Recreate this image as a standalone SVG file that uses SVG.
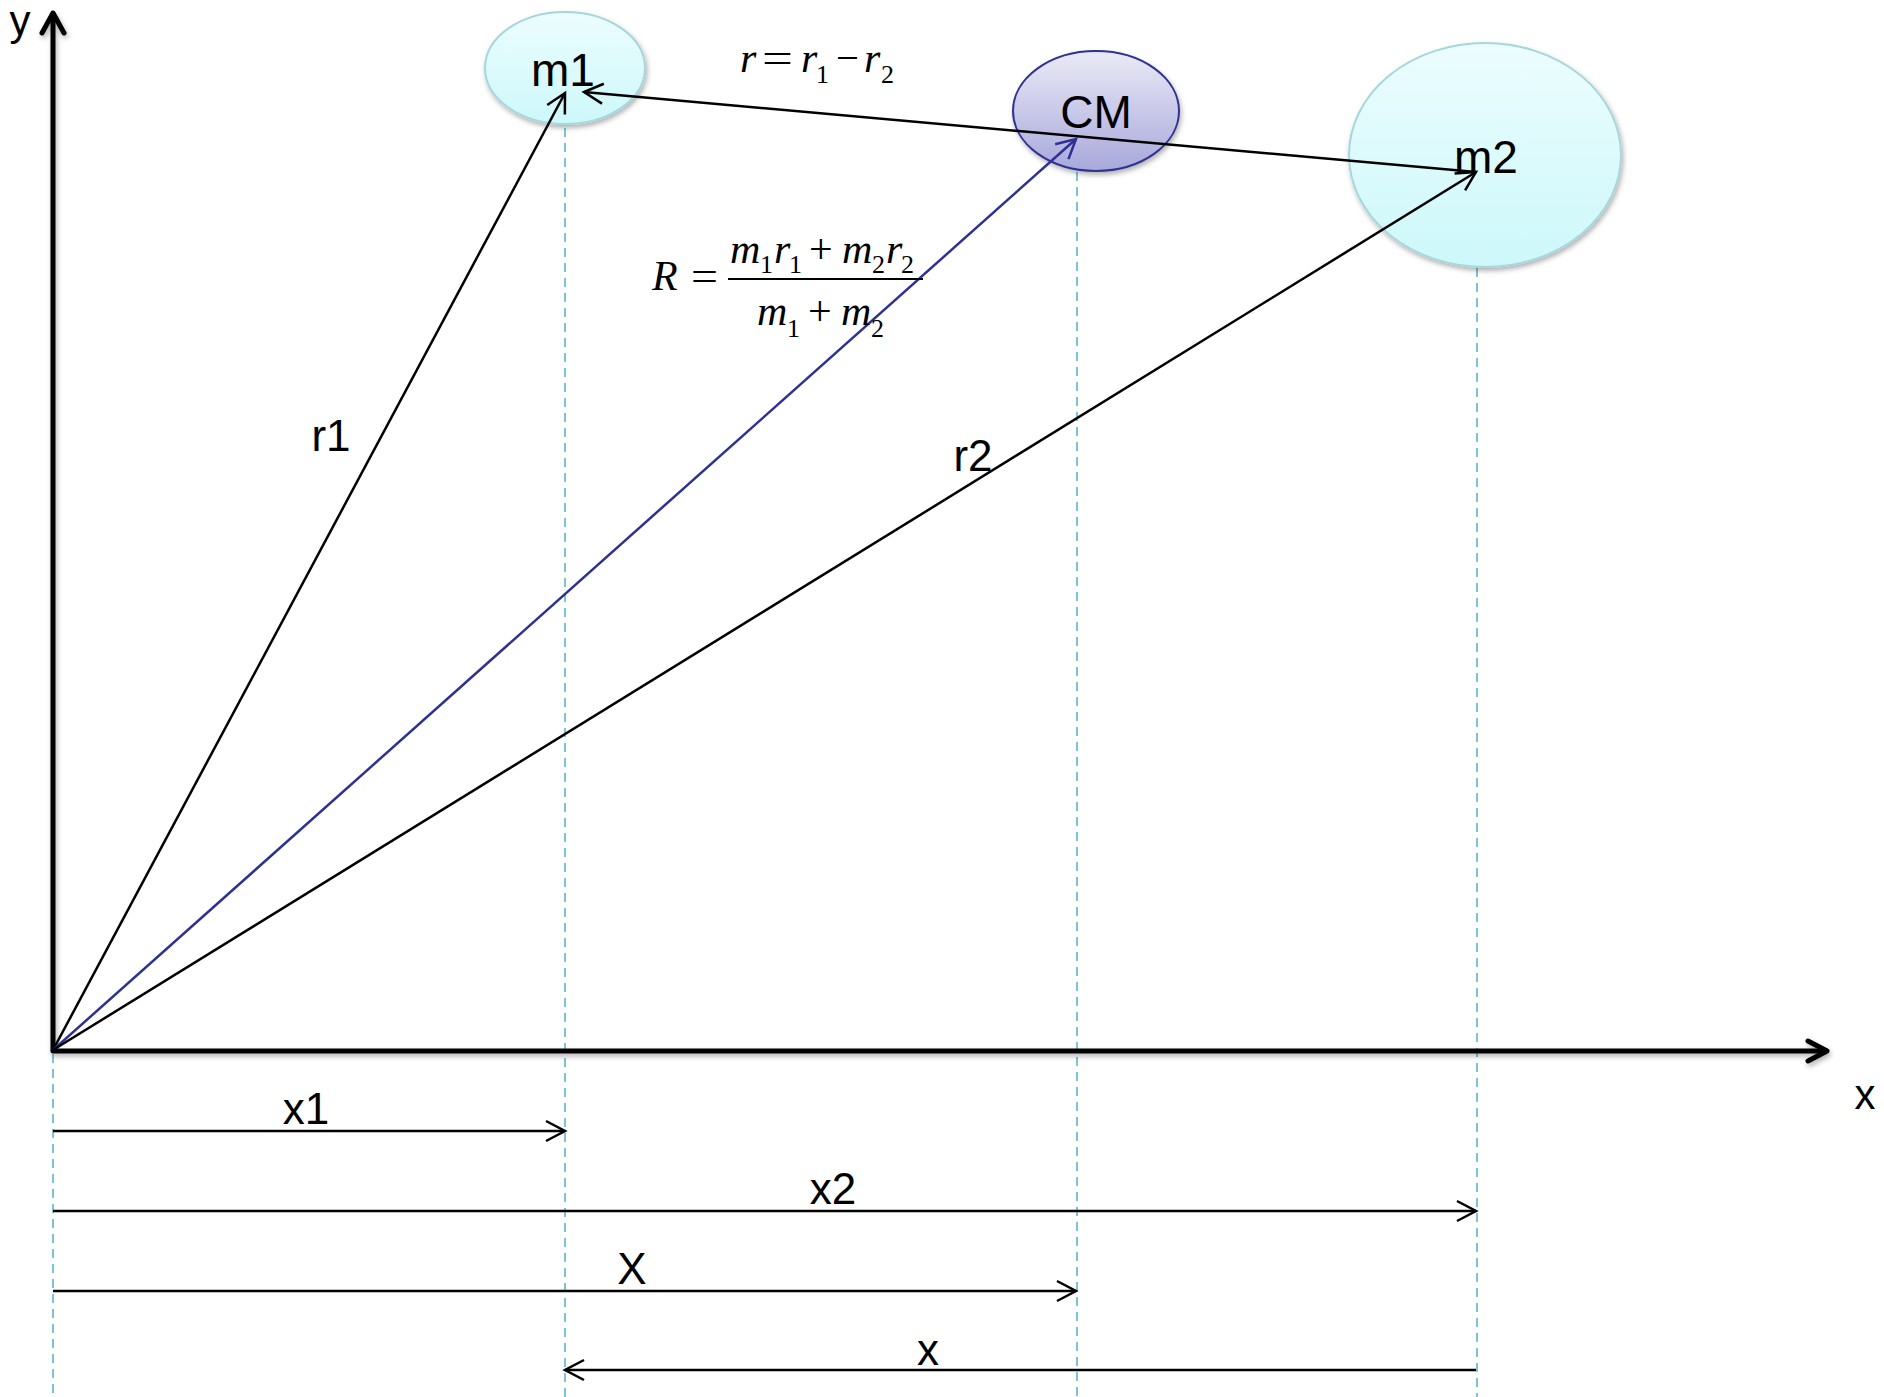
<svg xmlns="http://www.w3.org/2000/svg" width="1884" height="1397" viewBox="0 0 1884 1397">
<defs>
<style>
.lbl{font-family:"Liberation Sans",Arial,sans-serif;font-size:44px;fill:#000;text-anchor:middle}
.node{font-family:"Liberation Sans",Arial,sans-serif;font-size:46px;fill:#000;text-anchor:middle}
.mi{font-family:"Liberation Serif","Times New Roman",serif;font-style:italic;font-size:42px;fill:#000}
.mn{font-family:"Liberation Serif","Times New Roman",serif;font-style:normal;font-size:42px;fill:#000}
.sub{font-family:"Liberation Serif","Times New Roman",serif;font-style:normal;font-size:26px;fill:#000}
.vec{stroke:#000;stroke-width:2.5;fill:none;marker-end:url(#arr)}
.vecb{stroke:#2E3192;stroke-width:2.5;fill:none;marker-end:url(#arrb)}
.axis{stroke:#000;stroke-width:5;fill:none;stroke-linejoin:round;stroke-linecap:round}
.dash{stroke:#5BBAC6;stroke-width:1.6;stroke-dasharray:9 6;fill:none}
</style>
<linearGradient id="gc" x1="0" y1="0" x2="0" y2="1">
<stop offset="0" stop-color="#ECFDFE"/>
<stop offset="1" stop-color="#CDF8FA"/>
</linearGradient>
<linearGradient id="gb" x1="0" y1="0" x2="0" y2="1">
<stop offset="0" stop-color="#EAEAF6"/>
<stop offset="1" stop-color="#A8A8DC"/>
</linearGradient>
<filter id="sh" x="-20%" y="-20%" width="140%" height="150%">
<feDropShadow dx="1.5" dy="3" stdDeviation="2.5" flood-color="#000" flood-opacity="0.3"/>
</filter>
<marker id="arr" markerUnits="userSpaceOnUse" markerWidth="26" markerHeight="28" refX="22" refY="13" orient="auto" viewBox="0 0 26 28">
<path d="M3,3 L22,13 L3,23" fill="none" stroke="#000" stroke-width="2.5"/>
</marker>
<marker id="arrb" markerUnits="userSpaceOnUse" markerWidth="26" markerHeight="28" refX="22" refY="13" orient="auto" viewBox="0 0 26 28">
<path d="M3,3 L22,13 L3,23" fill="none" stroke="#2E3192" stroke-width="2.5"/>
</marker>
</defs>
<rect width="1884" height="1397" fill="#fff"/>

<g id="guides">
<line class="dash" x1="53" y1="1054" x2="53" y2="1397"/>
<line class="dash" x1="565" y1="98" x2="565" y2="1397"/>
<line class="dash" x1="1077" y1="142" x2="1077" y2="1397"/>
<line class="dash" x1="1477" y1="178" x2="1477" y2="1397"/>
</g>

<g id="node-m1">
<ellipse cx="565" cy="68" rx="80" ry="56" fill="url(#gc)" stroke="#A7D6DB" stroke-width="2" filter="url(#sh)"/>
<text class="node" x="563" y="86">m1</text>
</g>
<g id="node-CM">
<ellipse cx="1096" cy="111" rx="83" ry="60" fill="url(#gb)" stroke="#2E3192" stroke-width="2" filter="url(#sh)"/>
<text class="node" x="1096" y="128">CM</text>
</g>
<g id="node-m2">
<ellipse cx="1485" cy="155" rx="136" ry="112" fill="url(#gc)" stroke="#A7D6DB" stroke-width="2" filter="url(#sh)"/>
<text class="node" x="1486" y="173">m2</text>
</g>

<g id="axes" filter="url(#sh)">
<line class="axis" x1="53" y1="1050" x2="53" y2="14"/>
<polyline class="axis" points="42,33 53,13 64,33"/>
<line class="axis" x1="53" y1="1051" x2="1826" y2="1051"/>
<polyline class="axis" points="1808,1041 1827,1051 1808,1061"/>
</g>

<g id="connectors">
<line class="vec" x1="53" y1="1050" x2="565" y2="93"/>
<line class="vecb" x1="53" y1="1050" x2="1076" y2="139"/>
<line class="vec" x1="53" y1="1050" x2="1476" y2="172"/>
<line class="vec" x1="1476" y1="172" x2="584" y2="92"/>
<line class="vec" x1="53" y1="1131" x2="565" y2="1131"/>
<line class="vec" x1="53" y1="1211" x2="1476" y2="1211"/>
<line class="vec" x1="53" y1="1291" x2="1076" y2="1291"/>
<line class="vec" x1="1476" y1="1370" x2="565" y2="1370"/>
</g>

<g id="labels">
<text class="lbl" x="20" y="35" style="font-size:42px">y</text>
<text class="lbl" x="1865" y="1109" style="font-size:42px">x</text>
<text class="lbl" x="331" y="451">r1</text>
<text class="lbl" x="973" y="471">r2</text>
<text class="lbl" x="306" y="1124">x1</text>
<text class="lbl" x="833" y="1204">x2</text>
<text class="lbl" x="632" y="1284">X</text>
<text class="lbl" x="928" y="1365">x</text>
</g>

<g id="eq-r">
<text class="mi" x="740" y="72">r</text>
<text class="mn" x="762" y="72" textLength="31" lengthAdjust="spacingAndGlyphs">=</text>
<text class="mi" y="72"><tspan x="801">r</tspan><tspan class="sub" x="816" y="83">1</tspan></text>
<text class="mn" x="836" y="72" textLength="23" lengthAdjust="spacingAndGlyphs">−</text>
<text class="mi" y="72"><tspan x="864">r</tspan><tspan class="sub" x="881" y="83">2</tspan></text>
</g>

<g id="eq-R">
<text class="mi" x="652" y="290">R</text>
<text class="mn" x="691" y="290" textLength="27" lengthAdjust="spacingAndGlyphs">=</text>
<line x1="728" y1="279" x2="923" y2="279" stroke="#000" stroke-width="2"/>
<text class="mi" y="263"><tspan x="730">m</tspan><tspan class="sub" x="760" y="273">1</tspan><tspan x="774" y="263">r</tspan><tspan class="sub" x="789" y="273">1</tspan><tspan class="mn" x="809" y="263">+</tspan><tspan x="842" y="263">m</tspan><tspan class="sub" x="872" y="273">2</tspan><tspan x="886" y="263">r</tspan><tspan class="sub" x="901" y="273">2</tspan></text>
<text class="mi" y="325"><tspan x="757">m</tspan><tspan class="sub" x="787" y="337">1</tspan><tspan class="mn" x="808" y="325">+</tspan><tspan x="841" y="325">m</tspan><tspan class="sub" x="871" y="337">2</tspan></text>
</g>
</svg>
